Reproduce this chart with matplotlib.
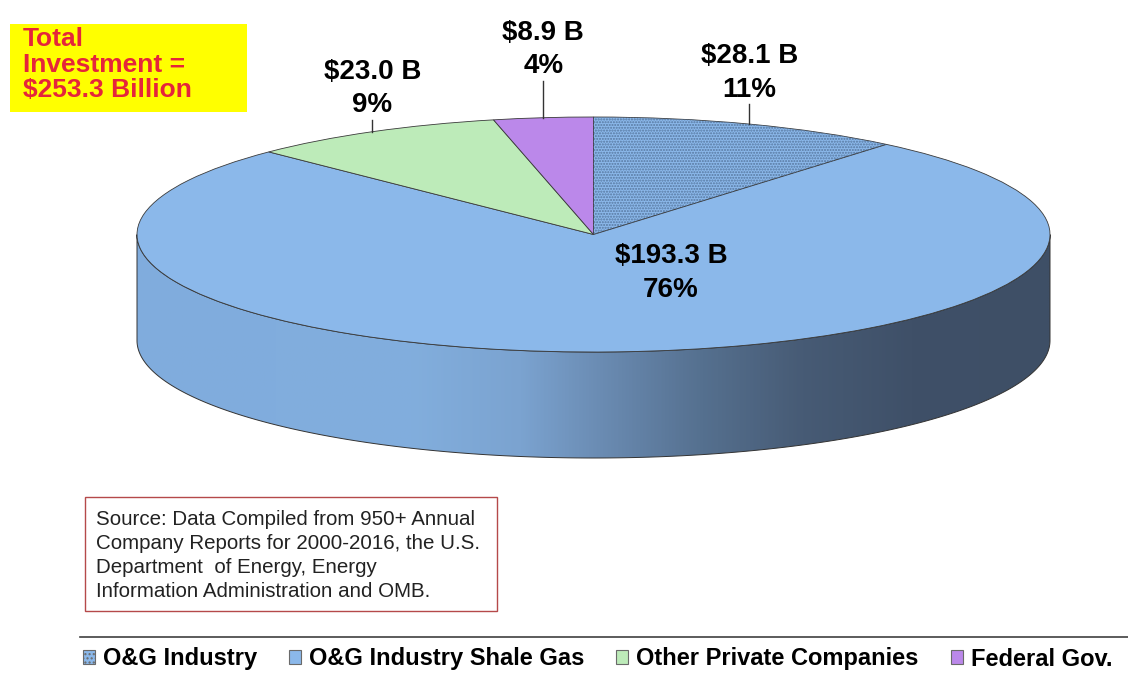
import numpy as np
import matplotlib.pyplot as plt
from matplotlib.patches import Polygon, Rectangle, Patch, Wedge
from matplotlib.colors import LinearSegmentedColormap

plt.rcParams['font.family'] = ['Liberation Sans', 'DejaVu Sans']

# data (billion $)
categories = ["O&G Industry", "O&G Industry Shale Gas", "Other Private Companies", "Federal Gov."]
values = [28.1, 193.3, 23.0, 8.9]
colors = ["#8bb8ea", "#8bb8ea", "#bdebb9", "#bb88ea"]
total = sum(values)

W, H = 1128, 675
fig = plt.figure(figsize=(W / 100, H / 100), dpi=100)

# pie geometry in pixels
cx, cy = 593.5, 234.5
rx, ry = 456.5, 117.5
depth = 106


def fx(x):
    return x / W


def fy(y):
    return 1 - y / H


ax = fig.add_axes([0, 0, 1, 1])
wedges, _ = ax.pie(values, startangle=90, counterclock=False, colors=colors,
                   wedgeprops=dict(edgecolor="#3a3a3a", linewidth=0.6, zorder=3))
ax.set_aspect("auto")
ax.axis("off")

# dotted pattern on the first slice
w0 = wedges[0]
ax.add_patch(Wedge((0, 0), 1, w0.theta1, w0.theta2, fill=False, hatch="......",
                   edgecolor="#56779f", linewidth=0, zorder=3.5))

# side wall of the shale slice (front half)
d = depth / ry
th = np.linspace(np.pi, 2 * np.pi, 300)
top = np.column_stack([np.cos(th), np.sin(th)])
bot = np.column_stack([np.cos(th[::-1]), np.sin(th[::-1]) - d])
wall = Polygon(np.vstack([top, bot]), closed=True, facecolor="none",
               edgecolor="#333333", linewidth=0.7, zorder=2)
ax.add_patch(wall)
cmap = LinearSegmentedColormap.from_list("wall", [
    (0.0, "#80acdd"), (0.3, "#82aedd"), (0.42, "#7ba3d0"), (0.51, "#6a8bb2"),
    (0.62, "#55708f"), (0.73, "#475b75"), (0.85, "#3f5068"), (1.0, "#3e4f66")])
img = ax.imshow(np.linspace(0, 1, 512)[None, :], cmap=cmap, aspect="auto",
                extent=[-1, 1, -1 - d, 0], zorder=1.5, interpolation="bilinear")
img.set_clip_path(wall)
ax.set_xlim(-cx / rx, (W - cx) / rx)
ax.set_ylim((cy - H) / ry, cy / ry)

# outside labels with leader lines
leader_px = {0: 20, 2: 12, 3: 37}
for i, w in enumerate(wedges):
    pct = values[i] / total * 100
    txt = f"${values[i]:.1f} B\n{pct:.0f}%"
    if i in leader_px:
        mid = np.deg2rad((w.theta1 + w.theta2) / 2)
        x0, y0 = np.cos(mid), np.sin(mid)
        y1 = y0 + leader_px[i] / ry
        ax.plot([x0, x0], [y0, y1], color="#333333", lw=1.0, zorder=4)
        ax.text(x0, y1 + 1.5 / ry, txt, ha="center", va="bottom", fontsize=20,
                fontweight="bold", linespacing=1.38, multialignment="center")
    else:
        ax.text((671 - cx) / rx, (cy - 273) / ry, txt, ha="center", va="center",
                fontsize=20, fontweight="bold", linespacing=1.38,
                multialignment="center", zorder=5)

# total box
fig.patches.append(Rectangle((fx(10), fy(112)), fx(237), 88 / H, transform=fig.transFigure,
                             facecolor="#ffff00", edgecolor="none"))
fig.text(fx(23), fy(27), f"Total\nInvestment =\n${total:.1f} Billion", color="#e5253b",
         fontsize=19, fontweight="bold", va="top", ha="left", linespacing=1.08)

# source box
fig.patches.append(Rectangle((fx(85), fy(611)), fx(412), 114 / H, transform=fig.transFigure,
                             facecolor="white", edgecolor="#b5494a", linewidth=1.0))
fig.text(fx(96), fy(510), "Source: Data Compiled from 950+ Annual\n"
         "Company Reports for 2000-2016, the U.S.\n"
         "Department  of Energy, Energy\n"
         "Information Administration and OMB.",
         fontsize=14.8, va="top", ha="left", color="#222222", linespacing=1.34)

# legend
fig.add_artist(plt.Line2D([fx(80), 1], [fy(637), fy(637)], transform=fig.transFigure,
                          color="#404040", lw=1.2))
handles = []
for i, c in enumerate(categories):
    handles.append(Patch(facecolor=colors[i], edgecolor="#6a6a6a", linewidth=0.8,
                         hatch="...." if i == 0 else None, label=c))
fig.legend(handles=handles, loc="center left", bbox_to_anchor=(fx(83), fy(659)), ncol=4,
           frameon=False, borderpad=0, borderaxespad=0, handlelength=0.5, handleheight=0.5,
           handletextpad=0.35, columnspacing=1.35,
           prop=dict(size=17, weight="bold"))

fig.savefig("out.png", dpi=100)
